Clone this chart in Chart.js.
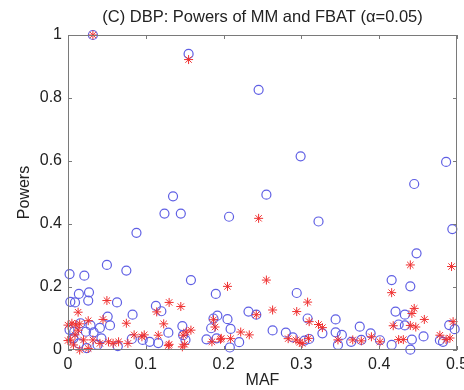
<!DOCTYPE html>
<html>
<head>
<meta charset="utf-8">
<script src="https://cdn.jsdelivr.net/npm/chart.js@4.4.1/dist/chart.umd.min.js"></script>
<style>
  html, body { margin: 0; padding: 0; background: #fff; }
  #c { display: block; }
</style>
</head>
<body>
<canvas id="c" width="464" height="390"></canvas>
<script>
// MM powers (blue circles)
var mafMM = [0.032, 0.155, 0.245, 0.299, 0.486, 0.445, 0.135, 0.255, 0.124, 0.145,
  0.207, 0.322, 0.494, 0.088, 0.448, 0.050, 0.075, 0.002, 0.021, 0.158,
  0.416, 0.440, 0.190, 0.294, 0.014, 0.027, 0.003, 0.009, 0.026, 0.063,
  0.113, 0.120, 0.232, 0.242, 0.083, 0.051, 0.192, 0.187, 0.205, 0.421,
  0.433, 0.308, 0.344, 0.054, 0.016, 0.029, 0.002, 0.023, 0.033, 0.041,
  0.147, 0.184, 0.209, 0.263, 0.375, 0.425, 0.433, 0.490, 0.497, 0.129,
  0.280, 0.327, 0.344, 0.352, 0.389, 0.289, 0.304, 0.310, 0.116, 0.105,
  0.148, 0.151, 0.178, 0.191, 0.220, 0.208, 0.347, 0.364, 0.377, 0.401,
  0.416, 0.442, 0.440, 0.457, 0.478, 0.482, 0.007, 0.014, 0.038, 0.043,
  0.082, 0.096, 0.008, 0.064, 0.024];
var powerMM = [1.000, 0.940, 0.826, 0.615, 0.597, 0.527, 0.488, 0.493, 0.433, 0.433,
  0.423, 0.408, 0.384, 0.372, 0.307, 0.270, 0.252, 0.241, 0.236, 0.222,
  0.222, 0.202, 0.178, 0.181, 0.178, 0.183, 0.153, 0.151, 0.157, 0.151,
  0.140, 0.123, 0.122, 0.112, 0.112, 0.106, 0.109, 0.100, 0.098, 0.122,
  0.112, 0.100, 0.097, 0.078, 0.085, 0.078, 0.064, 0.058, 0.056, 0.070,
  0.076, 0.069, 0.067, 0.062, 0.074, 0.081, 0.078, 0.079, 0.066, 0.055,
  0.055, 0.053, 0.056, 0.048, 0.053, 0.040, 0.030, 0.035, 0.022, 0.026,
  0.047, 0.032, 0.034, 0.037, 0.025, 0.008, 0.016, 0.026, 0.032, 0.031,
  0.016, 0.033, 0.001, 0.043, 0.031, 0.026, 0.037, 0.021, 0.016, 0.037,
  0.035, 0.032, 0.058, 0.012, 0.006];

// FBAT powers (red stars)
var mafFBAT = [0.032, 0.155, 0.245, 0.440, 0.493, 0.255, 0.205, 0.416, 0.050, 0.130,
  0.308, 0.145, 0.445, 0.263, 0.294, 0.114, 0.013, 0.442, 0.242, 0.045,
  0.026, 0.458, 0.187, 0.310, 0.495, 0.005, 0.015, 0.075, 0.123, 0.322,
  0.327, 0.189, 0.418, 0.440, 0.447, 0.000, 0.013, 0.158, 0.152, 0.222,
  0.233, 0.098, 0.116, 0.148, 0.009, 0.085, 0.095, 0.390, 0.478, 0.283,
  0.309, 0.347, 0.366, 0.377, 0.401, 0.425, 0.431, 0.486, 0.491, 0.293,
  0.298, 0.301, 0.197, 0.209, 0.185, 0.196, 0.003, 0.020, 0.032, 0.007,
  0.041, 0.052, 0.058, 0.065, 0.077, 0.026, 0.015, 0.130, 0.129, 0.147,
  0.150, 0.000, 0.010];
var powerFBAT = [1.000, 0.922, 0.418, 0.270, 0.265, 0.222, 0.202, 0.182, 0.157, 0.151,
  0.152, 0.138, 0.132, 0.127, 0.122, 0.121, 0.120, 0.116, 0.112, 0.097,
  0.093, 0.097, 0.096, 0.090, 0.090, 0.085, 0.083, 0.085, 0.083, 0.081,
  0.071, 0.073, 0.077, 0.078, 0.073, 0.079, 0.063, 0.063, 0.057, 0.057,
  0.048, 0.048, 0.047, 0.047, 0.048, 0.048, 0.042, 0.042, 0.047, 0.036,
  0.037, 0.032, 0.032, 0.029, 0.026, 0.033, 0.033, 0.033, 0.038, 0.032,
  0.024, 0.021, 0.037, 0.036, 0.026, 0.034, 0.032, 0.032, 0.032, 0.016,
  0.021, 0.026, 0.021, 0.026, 0.021, 0.005, 0.000, 0.018, 0.014, 0.010,
  0.018, 0.030, 0.080];

var xTicks = [0, 0.1, 0.2, 0.3, 0.4, 0.5];
var yTicks = [0, 0.2, 0.4, 0.6, 0.8, 1];

var fontFamily = "'Liberation Sans', Arial, Helvetica, sans-serif";
var textColor = '#222222';
var axisColor = '#7a7a7a';

function toPoints(xs, ys) {
  var pts = [];
  for (var i = 0; i < xs.length; i++) {
    pts.push({ x: xs[i], y: ys[i] });
  }
  return pts;
}

// matlab style box with inward ticks
var framePlugin = {
  id: 'frame',
  afterDatasetsDraw: function(chart) {
    var ctx = chart.ctx;
    var a = chart.chartArea;
    var xs = chart.scales.x, ys = chart.scales.y;
    var len = 4;
    ctx.save();
    ctx.strokeStyle = axisColor;
    ctx.lineWidth = 1;
    ctx.strokeRect(a.left + 0.5, a.top + 0.5, a.right - a.left - 1, a.bottom - a.top - 1);
    ctx.beginPath();
    xTicks.forEach(function(v) {
      var px = Math.round(xs.getPixelForValue(v)) + 0.5;
      ctx.moveTo(px, a.bottom);
      ctx.lineTo(px, a.bottom - len);
      ctx.moveTo(px, a.top);
      ctx.lineTo(px, a.top + len);
    });
    yTicks.forEach(function(v) {
      var py = Math.round(ys.getPixelForValue(v)) + 0.5;
      ctx.moveTo(a.left, py);
      ctx.lineTo(a.left + len, py);
      ctx.moveTo(a.right, py);
      ctx.lineTo(a.right - len, py);
    });
    ctx.stroke();
    ctx.restore();
  }
};

var ctx = document.getElementById('c');

var chart = new Chart(ctx, {
  type: 'scatter',
  data: {
    datasets: [
      {
        label: 'FBAT',
        data: toPoints(mafFBAT, powerFBAT),
        pointStyle: 'star',
        pointRadius: 4.5,
        borderColor: '#ef3030',
        backgroundColor: '#ef3030',
        borderWidth: 1,
        clip: false,
        order: 0
      },
      {
        label: 'MM',
        data: toPoints(mafMM, powerMM),
        pointStyle: 'circle',
        pointRadius: 4.5,
        borderColor: '#5f5fe4',
        backgroundColor: 'rgba(0,0,0,0)',
        borderWidth: 1.2,
        clip: false,
        order: 1
      }
    ]
  },
  options: {
    responsive: false,
    animation: false,
    devicePixelRatio: 1,
    layout: {
      padding: { left: 0, right: 7, top: 0, bottom: 0 }
    },
    plugins: {
      legend: { display: false },
      tooltip: { enabled: false },
      title: {
        display: true,
        fullSize: false,
        text: '(C) DBP: Powers of MM and FBAT (\u03B1=0.05)',
        color: textColor,
        font: { family: fontFamily, size: 16.5, weight: 'normal' },
        padding: { top: 8, bottom: 7.2 }
      }
    },
    scales: {
      x: {
        type: 'linear',
        min: 0,
        max: 0.5,
        afterBuildTicks: function(scale) {
          scale.ticks = xTicks.map(function(v) { return { value: v }; });
        },
        afterFit: function(scale) {
          scale.height = 40;
          scale.paddingLeft = 0;
          scale.paddingRight = 0;
        },
        grid: { display: false, drawTicks: false },
        border: { display: false },
        ticks: {
          autoSkip: false,
          maxRotation: 0,
          padding: 5,
          color: textColor,
          font: { family: fontFamily, size: 16 },
          callback: function(v) { return String(+v.toFixed(1)); }
        },
        title: {
          display: true,
          text: 'MAF',
          color: textColor,
          font: { family: fontFamily, size: 16 },
          padding: { top: 0, bottom: 0 }
        }
      },
      y: {
        type: 'linear',
        min: 0,
        max: 1,
        afterBuildTicks: function(scale) {
          scale.ticks = yTicks.map(function(v) { return { value: v }; });
        },
        afterFit: function(scale) {
          scale.width = 68;
        },
        grid: { display: false, drawTicks: false },
        border: { display: false },
        ticks: {
          autoSkip: false,
          padding: 6,
          color: textColor,
          font: { family: fontFamily, size: 16 },
          callback: function(v) { return String(+v.toFixed(1)); }
        },
        title: {
          display: true,
          text: 'Powers',
          color: textColor,
          font: { family: fontFamily, size: 16 },
          padding: { top: 15, bottom: 0 }
        }
      }
    }
  },
  plugins: [framePlugin]
});
</script>
</body>
</html>
